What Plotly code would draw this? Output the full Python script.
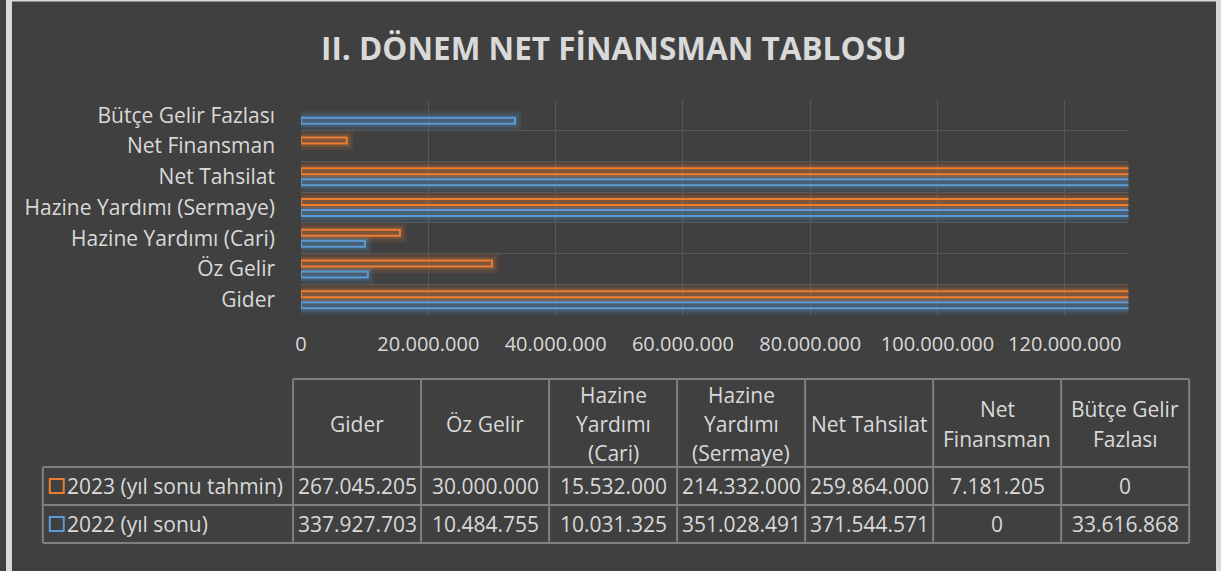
import plotly.graph_objects as go

# ---------------- data ----------------
categories = ["Gider", "Öz Gelir", "Hazine Yardımı (Cari)", "Hazine Yardımı (Sermaye)",
              "Net Tahsilat", "Net Finansman", "Bütçe Gelir Fazlası"]
header_labels = ["Gider", "Öz Gelir", "Hazine<br>Yardımı<br>(Cari)", "Hazine<br>Yardımı<br>(Sermaye)",
                 "Net Tahsilat", "Net<br>Finansman", "Bütçe Gelir<br>Fazlası"]
series_names = ["2023 (yıl sonu tahmin)", "2022 (yıl sonu)"]
values_2023 = [267045205, 30000000, 15532000, 214332000, 259864000, 7181205, 0]
values_2022 = [337927703, 10484755, 10031325, 351028491, 371544571, 0, 33616868]
x_tick_values = [0, 20000000, 40000000, 60000000, 80000000, 100000000, 120000000]
title_text = "II. DÖNEM NET FİNANSMAN TABLOSU"

# ---------------- style ----------------
W, H = 1221, 571
BG = "#404040"
TXT = "#d9d9d9"
GRID = "#575757"
ORANGE = "#ED7D31"
BLUE = "#5B9BD5"
FONT = "Open Sans"
FS_AX = 20
FS_Y = 21
FS_TB = 21


def fmt(v):
    return f"{int(v):,}".replace(",", ".")


def px(x):
    return x / W


def py(y):
    return 1 - y / H


def rgba(hex_color, a):
    h = hex_color.lstrip("#")
    r, g, b = int(h[0:2], 16), int(h[2:4], 16), int(h[4:6], 16)
    return f"rgba({r},{g},{b},{a})"


plot_left, plot_right = 296.5, 1128
plot_top, plot_bottom = 100, 315

fig = go.Figure()

series = [
    (series_names[1], values_2022, BLUE, -0.277),
    (series_names[0], values_2023, ORANGE, 0.081),
]
bar_w = 0.196

# glow layers
for name, vals, col, off in series:
    vv = [v if v else None for v in vals]
    for lw, a in [(13, 0.12), (7, 0.18)]:
        fig.add_trace(go.Bar(
            y=categories, x=vv, orientation="h", offset=off, width=bar_w,
            marker=dict(color="rgba(0,0,0,0)", line=dict(color=rgba(col, a), width=lw)),
            hoverinfo="skip", showlegend=False,
        ))
# main bars
for name, vals, col, off in series:
    vv = [v if v else None for v in vals]
    fig.add_trace(go.Bar(
        y=categories, x=vv, orientation="h", offset=off, width=bar_w, name=name,
        marker=dict(color=rgba(col, 0.10), line=dict(color=col, width=2)),
        showlegend=False,
    ))

fig.update_layout(
    width=W, height=H,
    margin=dict(l=0, r=0, t=0, b=0),
    paper_bgcolor=BG, plot_bgcolor=BG,
    barmode="overlay",
    font=dict(family=FONT, color=TXT, size=FS_AX),
    xaxis=dict(
        domain=[px(plot_left), px(plot_right)],
        range=[0, 130000000],
        tickvals=x_tick_values,
        ticktext=[fmt(v) for v in x_tick_values],
        showgrid=True, gridcolor=GRID, gridwidth=1,
        zeroline=False, showline=False, ticks="",
        ticklabelstandoff=15,
        tickfont=dict(size=FS_AX, color=TXT, family=FONT),
        fixedrange=True,
    ),
    yaxis=dict(
        domain=[py(plot_bottom), py(plot_top)],
        type="category",
        categoryorder="array", categoryarray=categories,
        tickson="boundaries",
        showgrid=True, gridcolor=GRID, gridwidth=1,
        zeroline=False, showline=False, ticks="",
        ticklabelstandoff=25,
        tickfont=dict(size=FS_Y, color=TXT, family=FONT),
        fixedrange=True,
    ),
)

shapes = []
annotations = []

# title
annotations.append(dict(
    x=px(611), y=py(47), xref="paper", yref="paper", text=f"<b>{title_text}</b>",
    showarrow=False, xanchor="center", yanchor="middle",
    font=dict(size=31.5, color=TXT, family=FONT),
))

# frame borders
FRAME = "#d9d9d9"
shapes.append(dict(type="rect", xref="paper", yref="paper", x0=px(0), x1=px(6), y0=0, y1=1,
                   fillcolor=FRAME, line=dict(width=0), layer="above"))
shapes.append(dict(type="rect", xref="paper", yref="paper", x0=px(1216), x1=1, y0=0, y1=1,
                   fillcolor=FRAME, line=dict(width=0), layer="above"))
shapes.append(dict(type="rect", xref="paper", yref="paper", x0=0, x1=1, y0=py(1.5), y1=1,
                   fillcolor=FRAME, line=dict(width=0), layer="above"))

# data table
LINE = "#7f7f7f"
tbl_left = 37
col0 = 288.5
col_w = (1189 - 288.5) / 7
hdr_top, hdr_bot, r1_bot, r2_bot = 379, 467, 505, 543
row_centers = [(hdr_bot + r1_bot) / 2, (r1_bot + r2_bot) / 2]
hdr_line_gap = 29.5


def hline(y, x0, x1):
    shapes.append(dict(type="line", xref="paper", yref="paper", x0=px(x0), x1=px(x1),
                       y0=py(y), y1=py(y), line=dict(color=LINE, width=2)))


def vline(x, y0, y1):
    shapes.append(dict(type="line", xref="paper", yref="paper", x0=px(x), x1=px(x),
                       y0=py(y0), y1=py(y1), line=dict(color=LINE, width=2)))


col_edges = [col0 + k * col_w for k in range(len(categories) + 1)]
hline(hdr_top, col0, col_edges[-1])
for y in (hdr_bot, r1_bot, r2_bot):
    hline(y, tbl_left, col_edges[-1])
vline(tbl_left, hdr_bot, r2_bot)
for x in col_edges:
    vline(x, hdr_top, r2_bot)

hdr_center = (hdr_top + hdr_bot) / 2 + 1
for k, lab in enumerate(header_labels):
    cx = col0 + (k + 0.5) * col_w
    parts = lab.split("<br>")
    n = len(parts)
    for i, part in enumerate(parts):
        yc = hdr_center + (i - (n - 1) / 2) * hdr_line_gap
        annotations.append(dict(
            x=px(cx), y=py(yc), xref="paper", yref="paper", text=part,
            showarrow=False, xanchor="center", yanchor="middle", align="center",
            font=dict(size=FS_TB, color=TXT, family=FONT),
        ))

table_rows = [(series_names[0], values_2023, ORANGE), (series_names[1], values_2022, BLUE)]
for (name, vals, col), yc in zip(table_rows, row_centers):
    shapes.append(dict(type="rect", xref="paper", yref="paper", x0=px(44), x1=px(58),
                       y0=py(yc + 7), y1=py(yc - 7), line=dict(color=col, width=2),
                       fillcolor="rgba(0,0,0,0)"))
    annotations.append(dict(
        x=px(59), y=py(yc), xref="paper", yref="paper", text=name,
        showarrow=False, xanchor="left", yanchor="middle",
        font=dict(size=FS_TB, color=TXT, family=FONT),
    ))
    for k, v in enumerate(vals):
        cx = col0 + (k + 0.5) * col_w
        annotations.append(dict(
            x=px(cx), y=py(yc), xref="paper", yref="paper", text=fmt(v),
            showarrow=False, xanchor="center", yanchor="middle",
            font=dict(size=FS_TB, color=TXT, family=FONT),
        ))

fig.update_layout(shapes=shapes, annotations=annotations)
fig.write_html(
    "out.html",
    config={"displayModeBar": False},
    post_script="document.body.style.margin='0';document.body.style.padding='0';"
                "document.documentElement.style.overflow='hidden';",
)
